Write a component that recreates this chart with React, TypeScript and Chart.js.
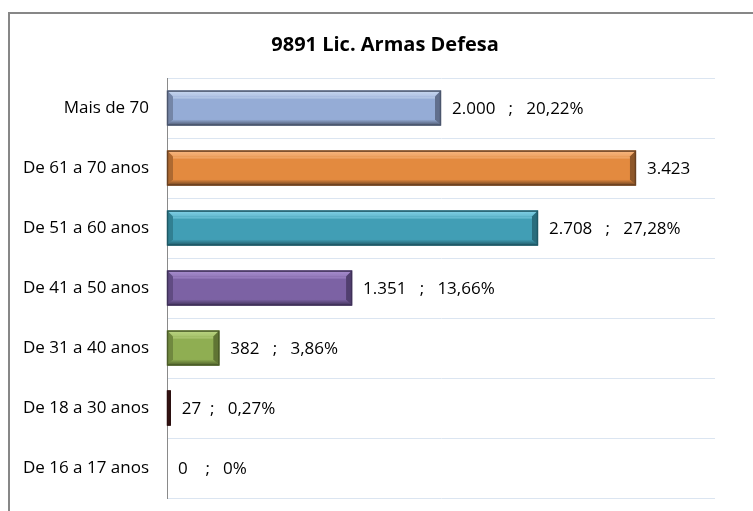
import React, { useEffect, useRef } from "react";
import { Chart, registerables } from "chart.js";

Chart.register(...registerables);

const title = "9891 Lic. Armas Defesa";
const categories = [
  "Mais de 70",
  "De 61 a 70 anos",
  "De 51 a 60 anos",
  "De 41 a 50 anos",
  "De 31 a 40 anos",
  "De 18 a 30 anos",
  "De 16 a 17 anos",
];
const values = [2000, 3423, 2708, 1351, 382, 27, 0];
const valueLabels = [
  "2.000   ;   20,22%",
  "3.423",
  "2.708   ;   27,28%",
  "1.351   ;   13,66%",
  "382   ;   3,86%",
  "27  ;   0,27%",
  "0    ;   0%",
];
const baseColors = ["#95acd6", "#e38a3f", "#419eb5", "#7c62a4", "#8fae52", "#4a1e1e", "#4a1e1e"];
const lightColors = ["#c9d8f0", "#f8b983", "#84d3e8", "#a98fcf", "#bcd684", "#6a3030", "#6a3030"];
const darkColors = ["#4b566d", "#6a4121", "#1f5865", "#3f3158", "#4b5c28", "#2a0f0f", "#2a0f0f"];

const FONT = "'Open Sans', 'Noto Sans', sans-serif";

const titlePlugin = {
  id: "customTitle",
  afterDraw(chart: any) {
    const ctx = chart.ctx;
    ctx.save();
    ctx.font = `bold 20px ${FONT}`;
    ctx.fillStyle = "#000";
    ctx.textAlign = "center";
    ctx.textBaseline = "middle";
    ctx.fillText(title, 385, 45);
    ctx.restore();
  },
};

const bevelPlugin = {
  id: "bevel",
  afterDatasetsDraw(chart: any) {
    const ctx = chart.ctx;
    const meta = chart.getDatasetMeta(0);
    meta.data.forEach((el: any, i: number) => {
      const x0 = Math.min(el.base, el.x);
      const x1 = Math.max(el.base, el.x);
      const y0 = el.y - el.height / 2;
      const y1 = el.y + el.height / 2;
      const w = x1 - x0;
      const h = y1 - y0;
      if (w < 1) return;
      ctx.save();
      const b = Math.min(6, w / 2);
      const g1 = ctx.createLinearGradient(0, y0, 0, y0 + h * 0.35);
      g1.addColorStop(0, lightColors[i]);
      g1.addColorStop(1, baseColors[i]);
      ctx.fillStyle = g1;
      ctx.beginPath();
      ctx.moveTo(x0, y0);
      ctx.lineTo(x1, y0);
      ctx.lineTo(x1 - b, y0 + b);
      ctx.lineTo(x0 + b, y0 + b);
      ctx.closePath();
      ctx.fill();
      ctx.globalAlpha = 0.55;
      ctx.fillStyle = lightColors[i];
      ctx.fillRect(x0 + b, y0 + b, w - 2 * b, 2);
      ctx.globalAlpha = 1;
      const g2 = ctx.createLinearGradient(0, y1 - b, 0, y1);
      g2.addColorStop(0, baseColors[i]);
      g2.addColorStop(1, darkColors[i]);
      ctx.fillStyle = g2;
      ctx.beginPath();
      ctx.moveTo(x0 + b, y1 - b);
      ctx.lineTo(x1 - b, y1 - b);
      ctx.lineTo(x1, y1);
      ctx.lineTo(x0, y1);
      ctx.closePath();
      ctx.fill();
      ctx.globalAlpha = 0.45;
      ctx.fillStyle = darkColors[i];
      ctx.beginPath();
      ctx.moveTo(x0, y0);
      ctx.lineTo(x0 + b, y0 + b);
      ctx.lineTo(x0 + b, y1 - b);
      ctx.lineTo(x0, y1);
      ctx.closePath();
      ctx.fill();
      ctx.globalAlpha = 0.7;
      ctx.beginPath();
      ctx.moveTo(x1, y0);
      ctx.lineTo(x1 - b, y0 + b);
      ctx.lineTo(x1 - b, y1 - b);
      ctx.lineTo(x1, y1);
      ctx.closePath();
      ctx.fill();
      ctx.globalAlpha = 1;
      ctx.strokeStyle = darkColors[i];
      ctx.lineWidth = 1.5;
      ctx.strokeRect(x0 + 0.5, y0 + 0.5, w - 1, h - 1);
      ctx.restore();
    });
  },
};

const labelPlugin = {
  id: "valueLabels",
  afterDatasetsDraw(chart: any) {
    const ctx = chart.ctx;
    const meta = chart.getDatasetMeta(0);
    ctx.save();
    ctx.font = `17px ${FONT}`;
    ctx.fillStyle = "#000";
    ctx.textAlign = "left";
    ctx.textBaseline = "middle";
    meta.data.forEach((el: any, i: number) => {
      ctx.fillText(valueLabels[i], Math.max(el.x, el.base) + 11, el.y + 1);
    });
    ctx.restore();
  },
};

export default function App() {
  const ref = useRef<HTMLCanvasElement | null>(null);
  useEffect(() => {
    if (!ref.current) return;
    const chart = new Chart(ref.current, {
      type: "bar",
      data: {
        labels: categories,
        datasets: [
          {
            data: values,
            backgroundColor: baseColors,
            borderColor: darkColors,
            borderWidth: 0,
            barPercentage: 0.58,
            categoryPercentage: 1,
          },
        ],
      },
      options: {
        animation: false,
        responsive: false,
        maintainAspectRatio: false,
        devicePixelRatio: 1,
        indexAxis: "y",
        layout: { padding: { top: 78, right: 38, bottom: 13, left: 0 } },
        plugins: {
          legend: { display: false },
          title: { display: false },
          tooltip: { enabled: false },
        },
        scales: {
          x: { display: false, min: 0, max: 4000 },
          y: {
            afterFit: (s: any) => {
              s.width = 167;
              s.paddingTop = 0;
              s.paddingBottom = 0;
            },
            grid: { color: "#dbe5f1", offset: true, drawTicks: false, lineWidth: 1 },
            border: { color: "#8a8a8a", width: 1 },
            ticks: { color: "#000", padding: 18, font: { family: FONT, size: 17 } },
          },
        },
      },
      plugins: [titlePlugin, bevelPlugin, labelPlugin],
    });
    return () => chart.destroy();
  }, []);
  return (
    <div style={{ position: "fixed", left: 0, top: 0, width: 753, height: 511, background: "#fff", overflow: "hidden" }}>
      <div
        style={{
          position: "absolute",
          left: 8,
          top: 12,
          width: 745,
          height: 499,
          borderLeft: "2px solid #878787",
          borderTop: "2px solid #878787",
          boxSizing: "border-box",
        }}
      />
      <canvas ref={ref} width={753} height={511} style={{ position: "absolute", left: 0, top: 0, width: 753, height: 511 }} />
    </div>
  );
}
